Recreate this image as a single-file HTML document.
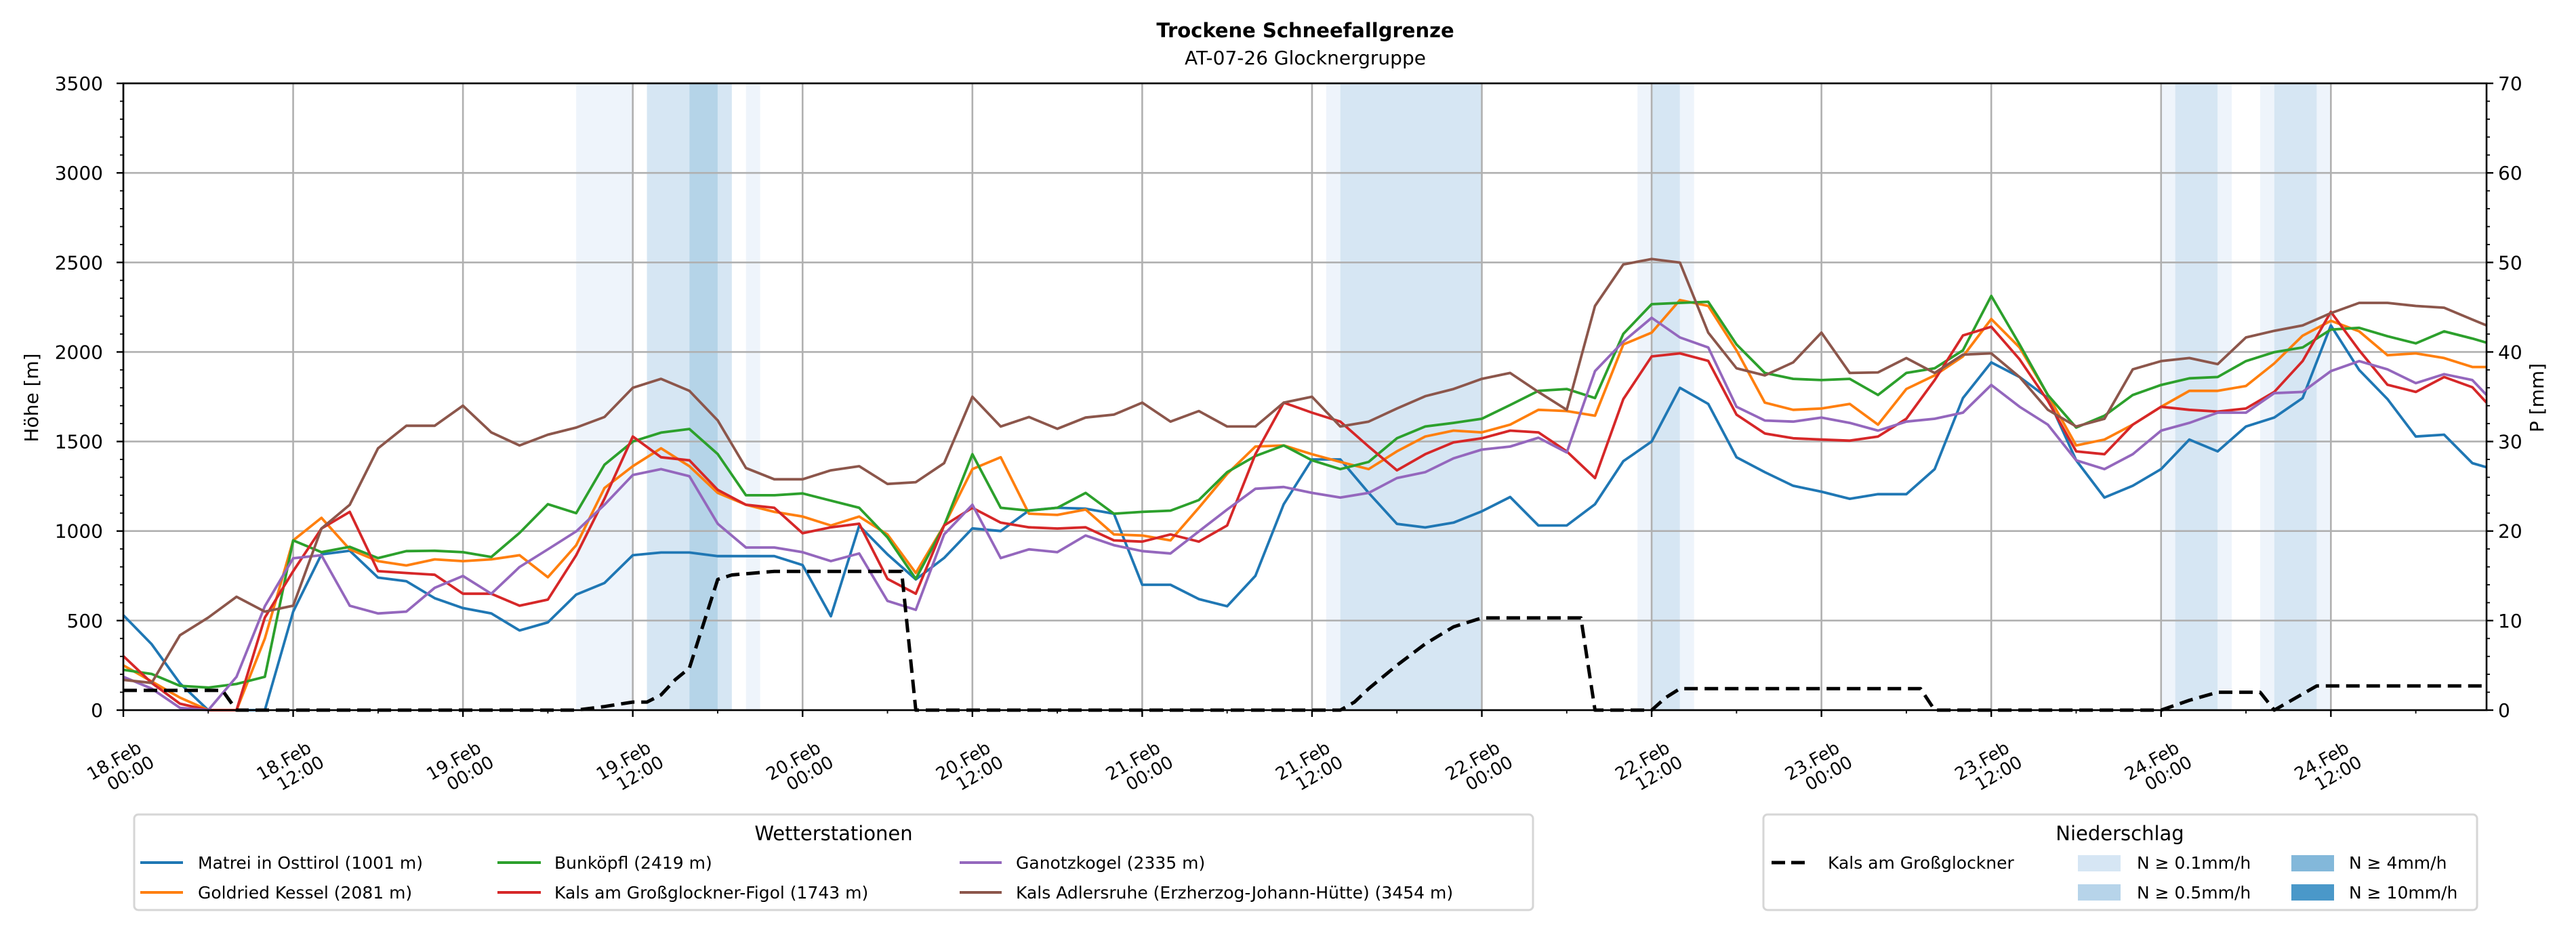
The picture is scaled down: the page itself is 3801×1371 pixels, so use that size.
<!DOCTYPE html>
<html><head><meta charset="utf-8"><style>
html,body{margin:0;padding:0;background:#fff;}
svg{display:block;font-family:"DejaVu Sans","Liberation Sans",sans-serif;}
</style></head><body>
<svg id="chart" width="3801" height="1371" viewBox="0 0 3801 1371" xmlns="http://www.w3.org/2000/svg">
<rect x="0" y="0" width="3801" height="1371" fill="#fff"/>
<text x="1926" y="55" text-anchor="middle" font-size="29" font-weight="bold">Trockene Schneefallgrenze</text>
<text x="1926" y="95" text-anchor="middle" font-size="28">AT-07-26 Glocknergruppe</text>
<g id="bands"></g>
<g id="grid"></g>
<g id="series"></g>
<g id="axes"></g>
<text x="0" y="0" transform="translate(56,587) rotate(-90)" text-anchor="middle" font-size="28">Höhe [m]</text>
<text x="0" y="0" transform="translate(3753,587) rotate(-90)" text-anchor="middle" font-size="28">P [mm]</text>
<g>
<rect x="198" y="1202" width="2064" height="141" rx="6" fill="#fff" stroke="#d6d6d6" stroke-width="3"/>
<text x="1230" y="1240" text-anchor="middle" font-size="29">Wetterstationen</text>
<g><line x1="207" y1="1273" x2="270" y2="1273" stroke="#1f77b4" stroke-width="4"/><text x="292" y="1282" font-size="25">Matrei in Osttirol (1001 m)</text></g>
<g><line x1="207" y1="1317" x2="270" y2="1317" stroke="#ff7f0e" stroke-width="4"/><text x="292" y="1326" font-size="25">Goldried Kessel (2081 m)</text></g>
<g><line x1="734" y1="1273" x2="798" y2="1273" stroke="#2ca02c" stroke-width="4"/><text x="818" y="1282" font-size="25">Bunköpfl (2419 m)</text></g>
<g><line x1="734" y1="1317" x2="798" y2="1317" stroke="#d62728" stroke-width="4"/><text x="818" y="1326" font-size="25">Kals am Großglockner-Figol (1743 m)</text></g>
<g><line x1="1416" y1="1273" x2="1478" y2="1273" stroke="#9467bd" stroke-width="4"/><text x="1499" y="1282" font-size="25">Ganotzkogel (2335 m)</text></g>
<g><line x1="1416" y1="1317" x2="1478" y2="1317" stroke="#8c564b" stroke-width="4"/><text x="1499" y="1326" font-size="25">Kals Adlersruhe (Erzherzog-Johann-Hütte) (3454 m)</text></g>
</g>
<g>
<rect x="2602" y="1202" width="1053" height="141" rx="6" fill="#fff" stroke="#d6d6d6" stroke-width="3"/>
<text x="3128" y="1240" text-anchor="middle" font-size="29">Niederschlag</text>
<g><line x1="2614" y1="1273" x2="2670" y2="1273" stroke="#000" stroke-width="5" stroke-dasharray="20,9"/><text x="2697" y="1282" font-size="25">Kals am Großglockner</text></g>
<g><rect x="3066" y="1262" width="63" height="24" fill="#d6e6f4"/><text x="3153" y="1282" font-size="25">N ≥ 0.1mm/h</text></g>
<g><rect x="3066" y="1305" width="63" height="24" fill="#b7d4ea"/><text x="3153" y="1326" font-size="25">N ≥ 0.5mm/h</text></g>
<g><rect x="3381" y="1262" width="63" height="24" fill="#83b8da"/><text x="3466" y="1282" font-size="25">N ≥ 4mm/h</text></g>
<g><rect x="3381" y="1305" width="63" height="24" fill="#4a98c9"/><text x="3466" y="1326" font-size="25">N ≥ 10mm/h</text></g>
</g>
</svg>
<script>
const hours = [0,2,4,6,8,10,12,14,16,18,20,22,24,26,28,30,32,34,36,38,40,42,44,46,48,50,52,54,56,58,60,62,64,66,68,70,72,74,76,78,80,82,84,86,88,90,92,94,96,98,100,102,104,106,108,110,112,114,116,118,120,122,124,126,128,130,132,134,136,138,140,142,144,146,148,150,152,154,156,158,160,162,164,166,167];
const matrei = [530,368,150,0,0,0,550,870,890,740,720,625,570,540,445,490,645,710,865,880,880,860,860,860,810,524,1030,870,730,850,1015,1000,1115,1130,1125,1097,700,700,620,580,750,1150,1400,1400,1213,1040,1020,1047,1110,1190,1031,1031,1150,1390,1500,1800,1710,1412,1329,1253,1220,1180,1206,1206,1346,1743,1942,1860,1743,1395,1187,1253,1346,1511,1445,1584,1634,1743,2148,1899,1737,1528,1538,1379,1356];
const goldried = [250,160,70,0,0,400,948,1074,898,832,808,842,832,842,865,742,921,1240,1362,1462,1362,1213,1147,1107,1081,1031,1081,981,766,1031,1346,1412,1097,1090,1120,981,975,948,1130,1319,1472,1478,1429,1386,1346,1445,1528,1561,1551,1594,1677,1670,1644,2042,2108,2290,2257,2009,1717,1677,1684,1710,1594,1793,1869,1975,2184,2025,1760,1478,1511,1594,1694,1783,1783,1810,1936,2091,2174,2115,1982,1992,1966,1916,1916];
const bunkoepfl = [225,202,136,126,146,186,948,882,912,849,888,890,882,855,990,1150,1100,1370,1500,1550,1570,1430,1200,1200,1210,1170,1130,965,733,1031,1429,1130,1114,1130,1213,1097,1107,1114,1173,1329,1419,1478,1395,1346,1386,1518,1584,1604,1627,1704,1783,1793,1743,2101,2267,2274,2280,2042,1883,1850,1843,1850,1760,1883,1909,2009,2313,2042,1760,1578,1644,1760,1816,1853,1860,1949,1999,2025,2125,2135,2088,2048,2115,2075,2052];
const kalsFigol = [302,152,36,0,0,517,776,1014,1107,776,766,756,650,650,583,617,865,1180,1528,1412,1395,1230,1147,1130,988,1021,1041,733,650,1031,1130,1047,1021,1014,1021,948,941,981,941,1031,1429,1717,1661,1611,1472,1339,1429,1495,1518,1561,1551,1445,1296,1737,1975,1992,1950,1650,1545,1518,1511,1505,1528,1627,1843,2092,2141,1959,1727,1445,1429,1594,1694,1677,1667,1684,1777,1949,2224,2009,1817,1777,1860,1803,1717];
const ganotzkogel = [186,120,13,0,186,580,848,865,583,540,550,683,749,650,799,898,998,1147,1313,1346,1306,1041,908,908,882,832,875,610,560,981,1147,849,898,882,975,921,888,875,998,1120,1236,1246,1213,1187,1213,1296,1329,1406,1455,1472,1521,1439,1893,2058,2191,2081,2025,1694,1617,1611,1634,1604,1561,1611,1627,1661,1816,1694,1594,1395,1346,1429,1561,1604,1661,1661,1770,1777,1893,1949,1903,1826,1876,1843,1760];
const adlersruhe = [169,152,418,517,633,550,583,1014,1147,1462,1588,1588,1700,1551,1478,1538,1578,1637,1800,1850,1783,1618,1352,1289,1289,1339,1362,1263,1273,1379,1750,1584,1637,1571,1634,1650,1717,1611,1670,1584,1584,1717,1750,1584,1611,1684,1753,1793,1850,1883,1777,1677,2257,2489,2519,2499,2108,1909,1869,1942,2108,1883,1886,1966,1883,1985,1992,1860,1677,1584,1627,1903,1949,1966,1932,2081,2118,2148,2217,2274,2274,2257,2247,2181,2148];
const precipHours = [0,7,8,32,34,36,37,38,39,40,42,43,46,55,56,86,87,88,90,92,94,96,103,104,108,109,110,127,128,144,146,148,151,152,155,167];
const precipValues = [2.2,2.2,0,0,0.4,0.9,0.9,1.7,3.4,4.7,14.6,15.1,15.5,15.5,0,0,0.9,2.4,5.0,7.4,9.3,10.3,10.3,0,0,1.4,2.4,2.4,0,0,1.1,2.0,2.0,0,2.7,2.7];
const bandStart = [32,37,40,42,44,85,86,107,108,110,144,145,148,151,152,155];
const bandEnd   = [36,40,42,43,45,86,96,108,110,111,145,148,149,152,155,156];
const bandLevel = [0,1,2,1,0,0,1,0,1,0,0,1,0,0,1,0];
const yTicks = [0,500,1000,1500,2000,2500,3000,3500];
const y2Ticks = [0,10,20,30,40,50,60,70];
const xTickHours = [0,12,24,36,48,60,72,84,96,108,120,132,144,156];
const xTickDay = ["18.Feb","18.Feb","19.Feb","19.Feb","20.Feb","20.Feb","21.Feb","21.Feb","22.Feb","22.Feb","23.Feb","23.Feb","24.Feb","24.Feb"];
const xTickTime = ["00:00","12:00","00:00","12:00","00:00","12:00","00:00","12:00","00:00","12:00","00:00","12:00","00:00","12:00"];

const NS="http://www.w3.org/2000/svg";
const L=182,R=3669,T=123,B=1048,HMAX=167,YMAX=3500,PMAX=70;
function xS(h){return L+h*(R-L)/HMAX;}
function yS(v){return B-v*(B-T)/YMAX;}
function pS(v){return B-v*(B-T)/PMAX;}
function mk(tag,attrs,parent){const e=document.createElementNS(NS,tag);for(const k in attrs)e.setAttribute(k,attrs[k]);parent.appendChild(e);return e;}

const bandColors=["#eef4fb","#d6e6f3","#b5d4e8"];
const gB=document.getElementById('bands');
for(let i=0;i<bandStart.length;i++){
  const r=mk('rect',{x:xS(bandStart[i]),y:T,width:xS(bandEnd[i])-xS(bandStart[i]),height:B-T,fill:bandColors[bandLevel[i]]},gB);
  
  
}
const gG=document.getElementById('grid');
yTicks.forEach(v=>{const l=mk('line',{x1:L,x2:R,y1:yS(v),y2:yS(v),stroke:"#b0b0b0","stroke-width":2.6},gG);
  
  });
xTickHours.forEach(h=>{const l=mk('line',{x1:xS(h),x2:xS(h),y1:T,y2:B,stroke:"#b0b0b0","stroke-width":2.6},gG);
  
  });

const gS=document.getElementById('series');
function poly(xs,ys,color,name,dash,fy){
  const pts=xs.map((h,i)=>xS(h).toFixed(1)+","+fy(ys[i]).toFixed(1)).join(" ");
  const p=mk('polyline',{points:pts,fill:"none",stroke:color,"stroke-width":dash?5:3.8,"stroke-linejoin":"round"},gS);
  if(dash)p.setAttribute('stroke-dasharray','20,10');
  
  
}
poly(hours,matrei,"#1f77b4","line-matrei",false,yS);
poly(hours,goldried,"#ff7f0e","line-goldried",false,yS);
poly(hours,bunkoepfl,"#2ca02c","line-bunkoepfl",false,yS);
poly(hours,kalsFigol,"#d62728","line-kals-figol",false,yS);
poly(hours,ganotzkogel,"#9467bd","line-ganotzkogel",false,yS);
poly(hours,adlersruhe,"#8c564b","line-adlersruhe",false,yS);
poly(precipHours,precipValues,"#000","line-precip-kals",true,pS);

const gA=document.getElementById('axes');
mk('rect',{x:L,y:T,width:R-L,height:B-T,fill:"none",stroke:"#000","stroke-width":2.6},gA);
for(let v=0;v<=YMAX;v+=100){const major=v%500===0;mk('line',{x1:L,x2:L-(major?10:5),y1:yS(v),y2:yS(v),stroke:"#000","stroke-width":major?2.4:1.8},gA);}
for(let v=0;v<=PMAX;v+=2){const major=v%10===0;mk('line',{x1:R,x2:R+(major?10:5),y1:pS(v),y2:pS(v),stroke:"#000","stroke-width":major?2.4:1.8},gA);}
for(let h=0;h<=HMAX;h+=6){const major=h%12===0;mk('line',{x1:xS(h),x2:xS(h),y1:B,y2:B+(major?10:5),stroke:"#000","stroke-width":major?2.4:1.8},gA);}
yTicks.forEach(v=>{const t=mk('text',{x:152,y:yS(v)+10,"text-anchor":"end","font-size":28},gA);t.textContent=String(v);
  
  });
y2Ticks.forEach(v=>{const t=mk('text',{x:3686,y:pS(v)+10,"text-anchor":"start","font-size":28},gA);t.textContent=String(v);
  
  });
xTickHours.forEach((h,i)=>{
  const g=mk('g',{transform:"translate("+(xS(h)-2)+",1131) rotate(-30)"},gA);
  
  
  const a=mk('text',{x:-6,y:-4,"text-anchor":"middle","font-size":26},g);a.textContent=xTickDay[i];
  const b=mk('text',{x:6,y:24,"text-anchor":"middle","font-size":26},g);b.textContent=xTickTime[i];
});
</script>
</body></html>
